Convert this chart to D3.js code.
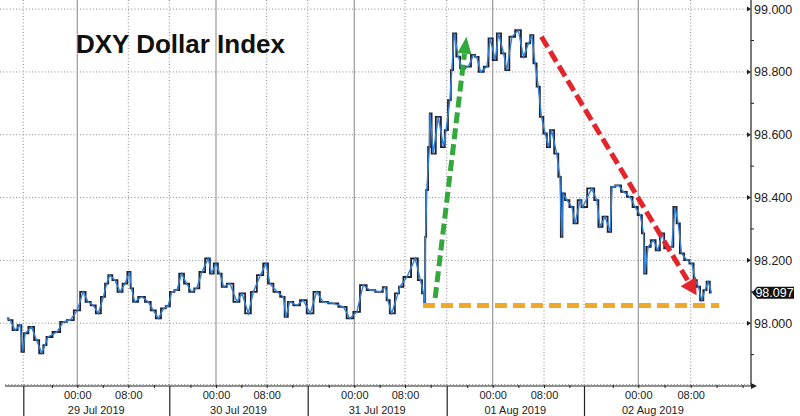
<!DOCTYPE html>
<html><head><meta charset="utf-8">
<script src="https://cdn.jsdelivr.net/npm/d3@7"></script>
<style>html,body{margin:0;padding:0;background:#fff;}svg{display:block;font-family:"Liberation Sans",Arial,sans-serif;}</style>
</head><body><svg id="c" width="800" height="416"></svg>
<script>
// ---------- data ----------
const title = "DXY Dollar Index";
// hours since 29 Jul 2019 00:00 (chart time)
const hours = [-11.1,-10.6,-9.8,-9.0,-8.6,-8.2,-7.2,-6.4,-5.6,-5.1,-4.6,-3.2,-2.2,-1.1,0,0.9,1.7,2.5,3.3,4.1,4.6,5.1,5.9,6.7,7.5,8.2,8.5,9.0,10.1,11.1,11.9,12.7,13.5,14.2,
17.1,17.9,18.6,19.4,20.2,21.0,21.8,22.8,23.3,24.0,24.6,25.2,26.2,27.3,28.1,29.1,29.9,31.0,31.9,32.5,33.6,34.6,35.0,35.6,36.7,37.7,
41.1,42.1,43.1,44.7,46.3,47.3,48.4,49.4,50.5,52.1,52.9,53.3,53.9,54.9,55.2,56.3,57.6,58.4,58.9,59.1,59.2,59.4,59.8,59.9,60.4,61.2,62.0,62.4,
65.3,65.6,66.0,66.6,67.2,68.2,69.0,69.5,70.1,71.1,71.6,72.4,72.9,73.7,74.2,75.0,76.0,76.8,77.6,78.1,78.6,79.1,79.6,80.2,80.7,81.2,82.0,82.5,82.8,83.0,83.6,84.4,84.9,85.7,86.1,
88.7,89.5,90.0,90.8,91.6,91.9,92.9,93.7,94.7,95.5,96.3,96.8,97.0,97.5,98.3,99.0,99.6,100.3,101.1,101.6,102.1,102.6,103.4,104.2,104.7,105.2,105.7,106.2,106.7,107.2];
const values = [98.015,98.010,97.978,97.994,97.909,97.968,97.988,97.946,97.904,97.930,97.956,97.972,98.004,98.010,98.041,98.100,98.068,98.057,98.031,98.084,98.126,98.153,98.137,98.100,98.126,98.163,98.111,98.068,98.084,98.068,98.041,98.015,98.047,98.054,
98.100,98.105,98.158,98.126,98.100,98.111,98.163,98.206,98.158,98.190,98.158,98.116,98.126,98.068,98.095,98.031,98.100,98.153,98.190,98.126,98.100,98.084,98.020,98.068,98.057,98.073,
98.031,98.100,98.068,98.063,98.052,98.015,98.036,98.121,98.105,98.100,98.115,98.073,98.031,98.095,98.116,98.147,98.206,98.137,98.095,98.063,98.275,98.424,98.561,98.668,98.540,98.657,98.561,98.615,
98.710,98.806,98.923,98.849,98.811,98.817,98.854,98.848,98.800,98.817,98.907,98.838,98.923,98.859,98.806,98.912,98.933,98.848,98.891,98.917,98.827,98.753,98.657,98.604,98.561,98.615,98.540,98.466,98.275,98.413,98.392,98.370,98.318,98.392,98.370,
98.429,98.392,98.307,98.339,98.291,98.434,98.439,98.418,98.402,98.370,98.344,98.286,98.158,98.243,98.264,98.232,98.286,98.238,98.243,98.370,98.318,98.222,98.201,98.190,98.137,98.116,98.073,98.105,98.132,98.097];
const lastValue = 98.097;
const yTicks = [98.0, 98.2, 98.4, 98.6, 98.8, 99.0];
const yMinorTicks = [97.9, 98.1, 98.3, 98.5, 98.7, 98.9];
const dayLabels = ["29 Jul 2019", "30 Jul 2019", "31 Jul 2019", "01 Aug 2019", "02 Aug 2019"];
const sessionStart = [-8.5, 16.7, 40.7, 64.8, 87.5];
const sessionEnd = [14.4, 38.4, 62.5, 86.3, 108.8];
const midnightHours = [0, 24, 48, 72, 96];
const morningHours = [8, 32, 56, 80, 104];
const minorHours = [-4, 4, 12, 20, 28, 36, 44, 52, 60, 68, 76, 84, 92, 100, 108, 112];
// annotations [hour, value]
const greenArrow = [[60.7, 98.08], [67.9, 98.912]];
const redArrow = [[79.6, 98.912], [104.9, 98.089]];
const orangeLine = [[58.8, 98.056], [108.4, 98.056]];

// ---------- layout ----------
const W = 800, H = 416, axisX = 751, axisY = 386;
// piecewise time scale (trading-session breaks collapse)
const xAnchorHours = [-11.4, -8.5, 0, 8, 14.4, 16.7, 24, 32, 38.4, 40.7, 48, 56, 62.5, 64.8, 72, 80, 86.3, 87.5, 96, 104, 113.3];
const xAnchorPx    = [5, 23.3, 77.3, 128.3, 169.3, 169.3, 216, 266.7, 307.7, 307.7, 354.3, 405, 446.7, 446.7, 492.7, 544, 584, 584, 638.3, 690.7, 751];
const x = d3.scaleLinear().domain(xAnchorHours).range(xAnchorPx).clamp(true);
const y = d3.scaleLinear().domain([97.8, 99.029]).range([axisY, 0]);

const svg = d3.select("#c");
svg.append("rect").attr("width", W).attr("height", H).attr("fill", "#fff");

// gridlines
const grid = svg.append("g");
grid.selectAll("line.hg").data(yTicks).join("line")
  .attr("x1", 0).attr("x2", axisX).attr("y1", d => y(d)).attr("y2", d => y(d))
  .attr("stroke", "#8a8a8a").attr("stroke-width", 1).attr("stroke-dasharray", "1,2.2");
grid.selectAll("line.vd").data([...morningHours, ...sessionStart]).join("line")
  .attr("x1", d => x(d)).attr("x2", d => x(d)).attr("y1", 0).attr("y2", axisY)
  .attr("stroke", "#8a8a8a").attr("stroke-width", 1).attr("stroke-dasharray", "1,2.2");
grid.selectAll("line.vs").data(midnightHours).join("line")
  .attr("x1", d => x(d)).attr("x2", d => x(d)).attr("y1", 0).attr("y2", axisY)
  .attr("stroke", "#9a9a9a").attr("stroke-width", 1.2);

// title
svg.append("text").attr("x", 76).attr("y", 53).text(title)
  .attr("font-size", 26).attr("font-weight", "bold").attr("fill", "#111");

// series (bar-style: dark stepped trace under a blue close line)
const pts = hours.map((h, i) => [h, values[i]]);
const stepLine = d3.line().x(d => x(d[0])).y(d => y(d[1])).curve(d3.curveStep);
const line = d3.line().x(d => x(d[0])).y(d => y(d[1]));
svg.append("path").datum(pts).attr("d", stepLine).attr("fill", "none")
  .attr("stroke", "#222230").attr("stroke-width", 1.8);
svg.append("path").datum(pts).attr("d", line).attr("fill", "none")
  .attr("stroke", "#2f80d8").attr("stroke-width", 1.4);

// annotations
function dashedArrow(p, color, dash, headLen, headHalf) {
  const x0 = x(p[0][0]), y0 = y(p[0][1]), x1 = x(p[1][0]), y1 = y(p[1][1]);
  const dx = x1 - x0, dy = y1 - y0, L = Math.hypot(dx, dy), ux = dx / L, uy = dy / L;
  const bx = x1 - ux * headLen, by = y1 - uy * headLen;
  svg.append("line").attr("x1", x0).attr("y1", y0).attr("x2", bx).attr("y2", by)
    .attr("stroke", color).attr("stroke-width", 5).attr("stroke-dasharray", dash);
  svg.append("path").attr("fill", color)
    .attr("d", `M${x1},${y1}L${bx - uy * headHalf},${by + ux * headHalf}L${bx + uy * headHalf},${by - ux * headHalf}Z`);
}
svg.append("line")
  .attr("x1", x(orangeLine[0][0])).attr("x2", x(orangeLine[1][0]))
  .attr("y1", y(orangeLine[0][1])).attr("y2", y(orangeLine[1][1]))
  .attr("stroke", "#f0a82a").attr("stroke-width", 5).attr("stroke-dasharray", "12,6");
dashedArrow(greenArrow, "#33a83c", "11,5", 17, 7);
dashedArrow(redArrow, "#e3242b", "12,5", 16, 9);

// right axis
const yAxis = d3.axisRight(y).tickValues(yTicks).tickFormat(d3.format(".3f")).tickSize(0).tickPadding(3);
const ya = svg.append("g").attr("transform", `translate(${axisX},0)`).call(yAxis);
ya.select(".domain").remove();
ya.selectAll("text").attr("font-size", 12.5).attr("fill", "#222").attr("font-family", "Liberation Sans, Arial, sans-serif");
svg.append("line").attr("x1", axisX).attr("x2", axisX).attr("y1", 0).attr("y2", axisY).attr("stroke", "#222").attr("stroke-width", 1.2);
svg.selectAll("path.ymaj").data(yTicks).join("path")
  .attr("d", d => `M${axisX - 4},${y(d) - 2.5}L${axisX},${y(d)}L${axisX - 4},${y(d) + 2.5}Z`).attr("fill", "#222");
svg.selectAll("line.ymin").data(yMinorTicks).join("line")
  .attr("x1", axisX).attr("x2", axisX + 3).attr("y1", d => y(d)).attr("y2", d => y(d))
  .attr("stroke", "#222");

// last value tag
const ly = y(lastValue);
svg.append("path").attr("d", `M${axisX + 1},${ly}L${axisX + 6},${ly - 6}L794,${ly - 6}L794,${ly + 6}L${axisX + 6},${ly + 6}Z`).attr("fill", "#111");
svg.append("text").attr("x", 774.5).attr("y", ly + 4.3).attr("text-anchor", "middle")
  .attr("font-size", 12.5).attr("fill", "#fff").text(d3.format(".3f")(lastValue));

// bottom axis
svg.append("line").attr("x1", 5).attr("x2", axisX).attr("y1", axisY).attr("y2", axisY).attr("stroke", "#222").attr("stroke-width", 1.2);
svg.append("line").attr("x1", 5).attr("x2", axisX).attr("y1", axisY - 1.5).attr("y2", axisY - 1.5)
  .attr("stroke", "#8a8a8a").attr("stroke-dasharray", "1,2.2");
svg.append("path").attr("d", `M${axisX},${axisY - 3}L${axisX + 6},${axisY}L${axisX},${axisY + 3}Z`).attr("fill", "#222");

function timeLabel(h) { return ((h % 24) + 24) % 24 === 0 ? "00:00" : "08:00"; }
const xAxisLab = d3.axisBottom(x).tickValues([...midnightHours, ...morningHours])
  .tickFormat(timeLabel).tickSize(3).tickPadding(3);
const xa = svg.append("g").attr("transform", `translate(0,${axisY - 1})`).call(xAxisLab);
xa.select(".domain").remove();
xa.selectAll("line").attr("stroke", "#222");
xa.selectAll("text").attr("font-size", 11).attr("fill", "#222").attr("font-family", "Liberation Sans, Arial, sans-serif");

const xAxisMinor = d3.axisBottom(x).tickValues(minorHours).tickFormat("").tickSize(3);
const xm = svg.append("g").attr("transform", `translate(0,${axisY - 1})`).call(xAxisMinor);
xm.select(".domain").remove();
xm.selectAll("line").attr("stroke", "#222");

const xAxisSep = d3.axisBottom(x).tickValues(sessionStart).tickFormat("").tickSize(H - axisY);
const xs = svg.append("g").attr("transform", `translate(0,${axisY})`).call(xAxisSep);
xs.select(".domain").remove();
xs.selectAll("line").attr("stroke", "#222").attr("stroke-width", 1.2);

svg.selectAll("text.day").data(dayLabels).join("text")
  .attr("x", (d, i) => (x(sessionStart[i]) + x(sessionEnd[i])) / 2)
  .attr("y", 414).attr("text-anchor", "middle")
  .attr("font-size", 11).attr("fill", "#222").text(d => d);
</script></body></html>
